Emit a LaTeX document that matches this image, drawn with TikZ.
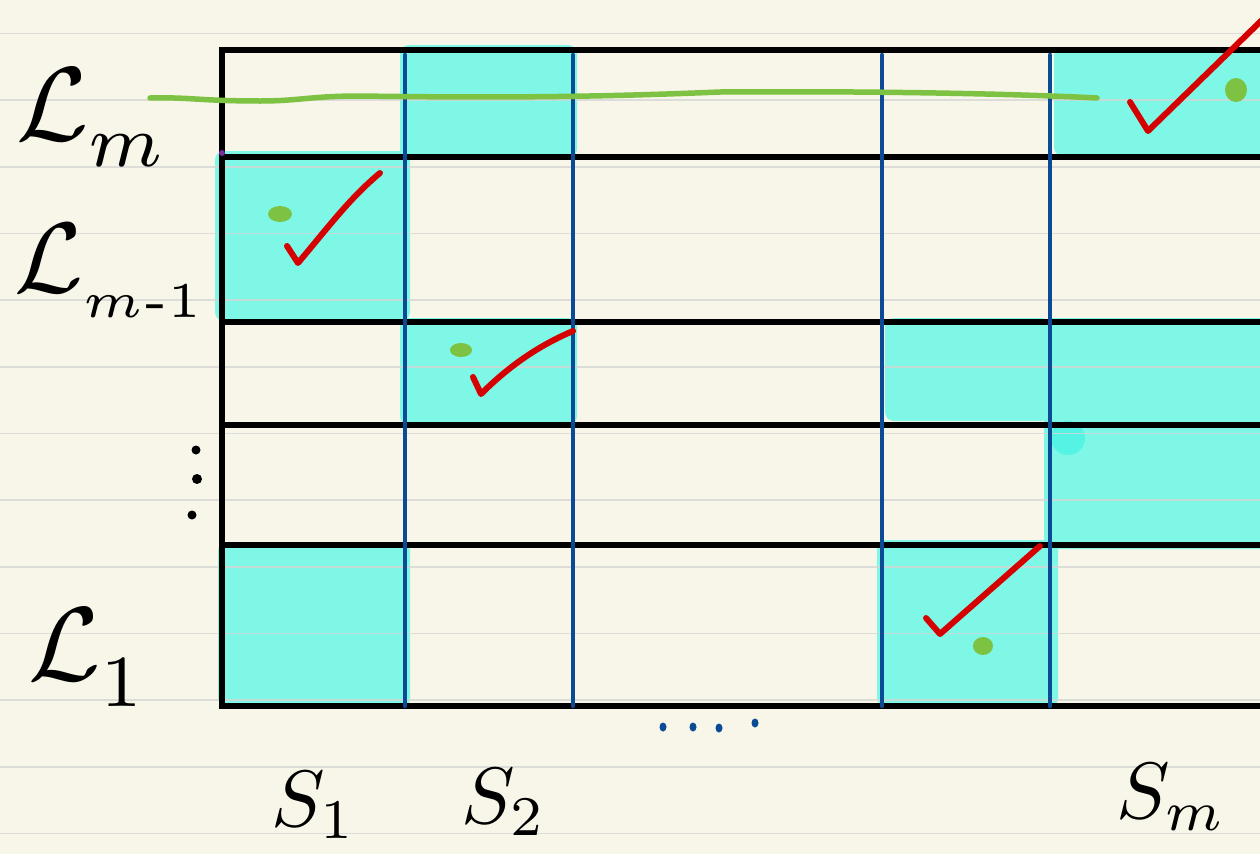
\documentclass[tikz,border=0pt]{standalone}
\usetikzlibrary{calc}
\definecolor{paper}{HTML}{F8F6E8}
\definecolor{rule}{HTML}{D6D6D4}
\definecolor{hl}{HTML}{7EF7E7}
\definecolor{hldark}{HTML}{44F2E4}
\definecolor{gridblue}{HTML}{0B4A94}
\definecolor{tickred}{HTML}{D50000}
\definecolor{pengreen}{HTML}{7DC242}
\definecolor{stray}{HTML}{7B2C9A}
\tikzset{
  hlcell/.style={fill=hl, rounded corners=9pt},
  hline/.style={line width=5.5pt, black, line cap=round},
  vline/.style={line width=4.5pt, gridblue, line cap=round},
  checkmark/.style={line width=6pt, tickred, line cap=round, line join=round},
  greenpen/.style={line width=5.5pt, pengreen, line cap=round},
  greendot/.style={fill=pengreen},
  lbl/.style={inner sep=0pt, text=black},
}
\begin{document}
\begin{tikzpicture}[x=1pt,y=-1pt]
\useasboundingbox (0,0) rectangle (1260,854);
\fill[paper] (0,0) rectangle (1260,854);
% highlighted cells
\fill[hlcell] (400,45) rectangle (577,158);
\fill[hlcell] (1054,47) rectangle (1275,156);
\fill[hlcell] (215,151) rectangle (410,321);
\fill[hlcell] (400,318) rectangle (577,425);
\fill[hlcell] (885,318) rectangle (1050,421);
\fill[hlcell] (1044,318) rectangle (1275,549);
\fill[hldark,opacity=0.7] (1068,438) circle (17);
\fill[hlcell] (218,542) rectangle (410,707);
\fill[hlcell] (877,540) rectangle (1058,707);
% paper rules
\foreach \yy in {33.3,100,166.7,233.3,300,366.7,433.3,500,566.7,633.3,700,766.7,833.3}
  \draw[rule, line width=1.6pt, opacity=0.8] (0,\yy) -- (1260,\yy);
% grid
\coordinate (TL) at (222,50);
\coordinate (BL) at (222,706);
\coordinate (TR) at (1262,50);
\coordinate (BR) at (1262,706);
\foreach \yy in {157,322,425,545}
  \draw[hline] (222,\yy) -- (1262,\yy);
\draw[hline] (TR) -- (TL) -- (BL) -- (BR);
\foreach \xx in {405,573,882,1050}
  \draw[vline] (\xx,55) -- (\xx,706);
\fill[stray] (222,153) circle (3);
% green line
\draw[greenpen] (150,98) .. controls (190,97) and (200,101) .. (260,101)
  .. controls (300,101) and (310,96) .. (360,96)
  .. controls (500,98) and (600,97) .. (720,92)
  .. controls (850,91) and (1000,93) .. (1097,98);
% checks
\draw[checkmark] (287,246) -- (298,263) .. controls (330,225) and (350,198) .. (380,173);
\draw[checkmark] (473,377) -- (481,394) .. controls (510,365) and (540,345) .. (573,331);
\draw[checkmark] (1130,102) -- (1148,131) -- (1262,20);
\draw[checkmark] (926,618) -- (940,634) -- (1040,546);
% green dots
\fill[greendot] (280,214) ellipse (12 and 8);
\fill[greendot] (461,350) ellipse (11 and 7);
\fill[greendot] (1236,90) ellipse (11 and 12);
\fill[greendot] (983,646) ellipse (10 and 9);
% vertical dots
\fill (196,450) circle (4.5);
\fill (197,479) circle (5);
\fill (192,515) circle (4.5);
% horizontal blue dots
\foreach \xx/\yy in {663/727,693/727,719/728,755/723}
  \fill[gridblue] (\xx,\yy) ellipse (3.5 and 4.5);
% labels
\node[lbl, scale=10.5, anchor=base west] (Lm) at (14,140) {$\mathcal{L}_{\lower1pt\hbox{$\scriptstyle m$}}$};
\node[lbl, scale=10, anchor=base west] (Lm1) at (12,292) {$\mathcal{L}_{\lower1pt\hbox{$\scriptscriptstyle m\mathchar"002D 1$}}$};
\node[lbl, scale=10.5, anchor=base west] (L1) at (26,680) {$\mathcal{L}_{\lower1pt\hbox{$\scriptstyle 1$}}$};
\node[lbl, scale=8, anchor=base west] (S1) at (270,826) {$S_{1}$};
\node[lbl, scale=8, anchor=base west] (S2) at (460,823) {$S_{2}$};
\node[lbl, scale=8, anchor=base west] (Sm) at (1115,818) {$S_{m}$};
\end{tikzpicture}
\end{document}
